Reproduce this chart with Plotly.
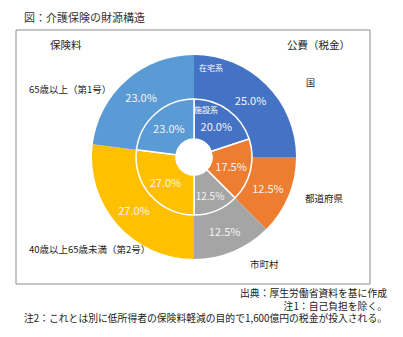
import plotly.graph_objects as go

W, H = 403, 337

# Data
outer_labels = ["国(在宅系)", "都道府県", "市町村", "第2号", "第1号"]
outer_values = [25.0, 12.5, 12.5, 27.0, 23.0]
inner_labels = ["国(施設系)", "都道府県", "市町村", "第2号", "第1号"]
inner_values = [20.0, 17.5, 12.5, 27.0, 23.0]
colors = ["#4472C4", "#ED7D31", "#A5A5A5", "#FFC000", "#5B9BD5"]
notes = [
    "出典：厚生労働省資料を基に作成",
    "注1：自己負担を除く。",
    "注2：これとは別に低所得者の保険料軽減の目的で1,600億円の税金が投入される。",
]

FONT = "Noto Sans CJK JP, Noto Sans, sans-serif"

def px(x):
    return x / W

def py(y):
    return 1 - y / H

cx, cy = 194, 157
R_out, R_in, R_hole = 102, 58, 18

fig = go.Figure()
fig.add_trace(go.Pie(
    labels=outer_labels, values=outer_values, sort=False, direction="clockwise",
    rotation=0, hole=R_in / R_out,
    marker=dict(colors=colors, line=dict(color="white", width=0)),
    texttemplate="%{value:.1f}%", textposition="inside", insidetextorientation="horizontal",
    textfont=dict(color="#f4f4f4", size=11, family=FONT),
    domain=dict(x=[px(cx - R_out), px(cx + R_out)], y=[py(cy + R_out), py(cy - R_out)]),
    showlegend=False, hoverinfo="label+value",
))
fig.add_trace(go.Pie(
    labels=inner_labels, values=inner_values, sort=False, direction="clockwise",
    rotation=0, hole=R_hole / R_in,
    marker=dict(colors=colors, line=dict(color="white", width=1.5)),
    texttemplate="%{value:.1f}%", textposition="inside", insidetextorientation="horizontal",
    textfont=dict(color="#f4f4f4", size=11, family=FONT),
    domain=dict(x=[px(cx - R_in), px(cx + R_in)], y=[py(cy + R_in), py(cy - R_in)]),
    showlegend=False, hoverinfo="label+value",
))

annots = [
    ("図：介護保険の財源構造", 22, 17, "left", 11, "#333"),
    ("保険料", 66, 44, "center", 10.5, "#222"),
    ("公費（税金）", 318, 44, "center", 10.5, "#222"),
    ("国", 310, 83, "center", 9, "#222"),
    ("都道府県", 324, 198, "center", 9.5, "#222"),
    ("市町村", 264, 264, "center", 9.5, "#222"),
    ("65歳以上（第1号）", 27, 89, "left", 9.5, "#222"),
    ("40歳以上65歳未満（第2号）", 27, 249, "left", 9.5, "#222"),
    ("在宅系", 211, 67, "center", 8, "white"),
    ("施設系", 206, 110, "center", 8, "white"),
]
for text, x, y, anchor, size, color in annots:
    fig.add_annotation(text=text, x=px(x), y=py(y), xref="paper", yref="paper",
                       xanchor=anchor, yanchor="middle", showarrow=False,
                       font=dict(size=size, color=color, family=FONT))

fig.add_annotation(text="<br>".join(notes), x=px(389), y=py(305), xref="paper", yref="paper",
                   xanchor="right", yanchor="middle", align="right", showarrow=False,
                   font=dict(size=9.8, color="#222", family=FONT))

fig.add_shape(type="rect", xref="paper", yref="paper",
              x0=px(16), x1=px(370), y0=py(284), y1=py(30),
              line=dict(color="#8c8c8c", width=1), layer="below")

fig.update_layout(width=W, height=H, margin=dict(l=0, r=0, t=0, b=0),
                  paper_bgcolor="white", plot_bgcolor="white",
                  font=dict(family=FONT))

fig.write_html("out.html")
